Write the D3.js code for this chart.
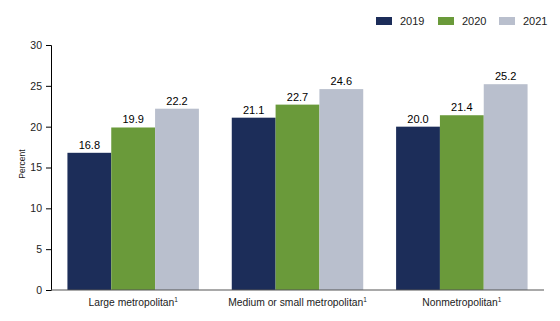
<!DOCTYPE html>
<html><head><meta charset="utf-8">
<script src="https://cdn.jsdelivr.net/npm/d3@7"></script>
<style>body{margin:0;background:#fff}svg{display:block;font-family:"Liberation Sans",Arial,sans-serif}</style>
</head><body><svg id="c" width="560" height="321"></svg>
<script>
const categories = ["Large metropolitan", "Medium or small metropolitan", "Nonmetropolitan"];
const years = ["2019", "2020", "2021"];
const values2019 = [16.8, 21.1, 20.0];
const values2020 = [19.9, 22.7, 21.4];
const values2021 = [22.2, 24.6, 25.2];
const yTicks = [0, 5, 10, 15, 20, 25, 30];
const colors = ["#1c2d59", "#6a9a3a", "#b9bfcd"];

const series = [values2019, values2020, values2021];
const svg = d3.select("#c");
const m = {l: 51, r: 16, t: 45, b: 31};
const W = 560, H = 321;
const x0 = d3.scaleBand().domain(categories).range([m.l, W - m.r]).paddingInner(0.2).paddingOuter(0.1);
const x1 = d3.scaleBand().domain(years).range([0, x0.bandwidth()]);
const y = d3.scaleLinear().domain([0, 30]).range([H - m.b, m.t]);

const g = svg.append("g");
categories.forEach((c, i) => {
  years.forEach((yr, j) => {
    const v = series[j][i];
    g.append("rect").attr("x", x0(c) + x1(yr)).attr("y", y(v))
      .attr("width", x1.bandwidth()).attr("height", y(0) - y(v)).attr("fill", colors[j]);
    g.append("text").attr("x", x0(c) + x1(yr) + x1.bandwidth() / 2).attr("y", y(v) - 4)
      .attr("text-anchor", "middle").attr("font-size", 11).attr("fill", "#000").text(v.toFixed(1));
  });
});

const ya = svg.append("g").attr("transform", `translate(${m.l},0)`)
  .call(d3.axisLeft(y).tickValues(yTicks).tickSize(5).tickPadding(4));
ya.selectAll("text").attr("font-size", 10.5).attr("fill", "#222").attr("font-family", "Liberation Sans, Arial, sans-serif");
ya.selectAll("line,path").attr("stroke", "#000");

const xa = svg.append("g").attr("transform", `translate(0,${y(0)})`)
  .call(d3.axisBottom(x0).tickSize(0).tickPadding(0));
xa.select(".domain").attr("stroke", "#555").attr("stroke-width", 1.2).attr("d", `M${m.l},0H${W - m.r}`);
xa.selectAll(".tick text").remove();
xa.selectAll(".tick").each(function(c) {
  const t = d3.select(this).append("text").attr("y", 16).attr("text-anchor", "middle")
    .attr("font-size", 10.3).attr("fill", "#222").attr("font-family", "Liberation Sans, Arial, sans-serif");
  t.append("tspan").text(c);
  t.append("tspan").attr("font-size", 6.5).attr("dy", -4).text("1");
});

svg.append("text").attr("transform", `translate(25,164) rotate(-90)`)
  .attr("text-anchor", "middle").attr("font-size", 8.5).attr("fill", "#222").text("Percent");

const legX = [376, 438, 499];
years.forEach((yr, j) => {
  svg.append("rect").attr("x", legX[j]).attr("y", 17).attr("width", 16).attr("height", 8).attr("fill", colors[j]);
  svg.append("text").attr("x", legX[j] + 24).attr("y", 25).attr("font-size", 11).attr("fill", "#222").text(yr);
});
</script></body></html>
